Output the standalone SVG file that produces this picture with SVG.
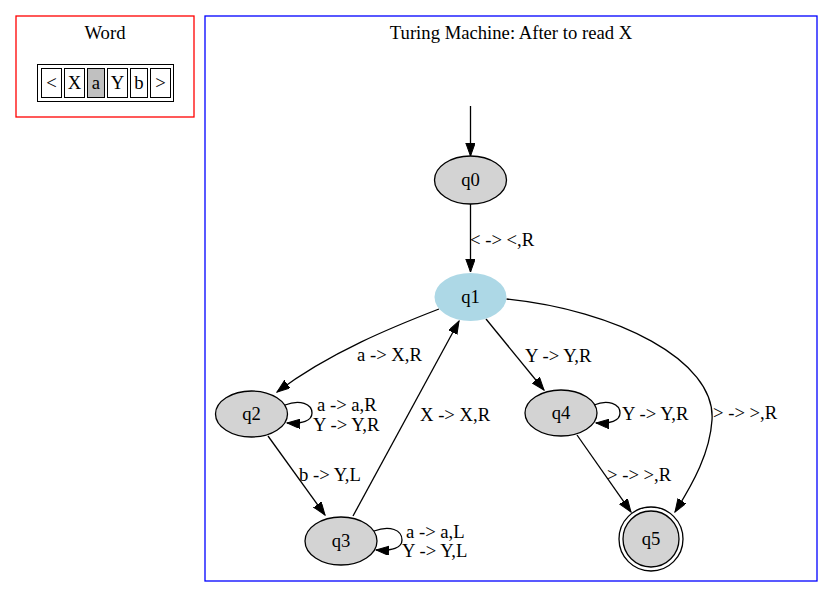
<svg xmlns="http://www.w3.org/2000/svg" width="833" height="598" viewBox="0 0 833 598">
<style>
text{font-family:"Liberation Serif","Times New Roman",serif;font-size:18.67px;fill:#000}
.c{text-anchor:middle}
.n{fill:#d3d3d3;stroke:#000;stroke-width:1.3}
.e{fill:none;stroke:#000;stroke-width:1.3}
.cell{fill:#fff;stroke:#000;stroke-width:1}
</style>
<defs>
<marker id="ah" markerUnits="userSpaceOnUse" markerWidth="14" markerHeight="10" refX="13" refY="4.7" orient="auto">
<path d="M0,0 L13,4.7 L0,9.4 z" fill="#000" stroke="#000" stroke-width="1"/>
</marker>
</defs>
<rect width="833" height="598" fill="#fff"/>
<g id="cluster_word">
<rect x="16" y="16" width="178" height="101" fill="none" stroke="#ff0000" stroke-width="1.3"/>
<text class="c" x="105" y="39">Word</text>
<rect x="37.5" y="64.5" width="136" height="37" fill="none" stroke="#000" stroke-width="1"/>
<rect class="cell" x="41.5" y="68.5" width="20" height="29"/>
<rect class="cell" x="64.5" y="68.5" width="20" height="29"/>
<rect x="87.5" y="68.5" width="17" height="29" fill="#c0c0c0" stroke="#000" stroke-width="1"/>
<rect class="cell" x="107.5" y="68.5" width="20" height="29"/>
<rect class="cell" x="130.5" y="68.5" width="17" height="29"/>
<rect class="cell" x="150.5" y="68.5" width="20" height="29"/>
<text class="c" x="51.5" y="89">&lt;</text>
<text class="c" x="74.5" y="89">X</text>
<text class="c" x="96" y="89">a</text>
<text class="c" x="117.5" y="89">Y</text>
<text class="c" x="139" y="89">b</text>
<text class="c" x="160.5" y="89">&gt;</text>
</g>
<g id="cluster_tm">
<rect x="205" y="16" width="612" height="565" fill="none" stroke="#0000ff" stroke-width="1.3"/>
<text class="c" x="511" y="39">Turing Machine: After to read X</text>
</g>
<g id="edges">
<path class="e" d="M470.5,106 L470.5,156" marker-end="url(#ah)"/>
<path class="e" d="M470.5,204 L470.5,272" marker-end="url(#ah)"/>
<text x="470" y="246">&lt; -&gt; &lt;,R</text>
<path class="e" d="M439,309 C395,326 330,352 277,392" marker-end="url(#ah)"/>
<text x="357" y="361">a -&gt; X,R</text>
<path class="e" d="M486,319 L544,390" marker-end="url(#ah)"/>
<text x="525" y="362">Y -&gt; Y,R</text>
<path class="e" d="M506.5,299 C615,310 716,360 712,420 C710,452 694,482 675,512" marker-end="url(#ah)"/>
<text x="713" y="419">&gt; -&gt; &gt;,R</text>
<path class="e" d="M594,405 C608,399 620,404 620,413 C620,421 610,424 596,423" marker-end="url(#ah)"/>
<text x="622" y="420">Y -&gt; Y,R</text>
<path class="e" d="M577,435 L631,512" marker-end="url(#ah)"/>
<text x="607" y="481">&gt; -&gt; &gt;,R</text>
<path class="e" d="M285,405 C300,399 312,404 312,413 C312,421 302,424 287,423" marker-end="url(#ah)"/>
<text x="317" y="411">a -&gt; a,R</text>
<text x="313" y="431">Y -&gt; Y,R</text>
<path class="e" d="M268,436 L325,515" marker-end="url(#ah)"/>
<text x="299" y="481">b -&gt; Y,L</text>
<path class="e" d="M353,516 L459,321" marker-end="url(#ah)"/>
<text x="420" y="421">X -&gt; X,R</text>
<path class="e" d="M374,531 C390,525 402,530 402,540 C402,548 392,551 376,550" marker-end="url(#ah)"/>
<text x="406" y="538">a -&gt; a,L</text>
<text x="402" y="557">Y -&gt; Y,L</text>
</g>
<g id="q0">
<ellipse class="n" cx="470.5" cy="180" rx="36" ry="24"/>
<text class="c" x="470.5" y="186">q0</text>
</g>
<g id="q1">
<ellipse cx="470.5" cy="297" rx="36" ry="24" fill="#add8e6"/>
<text class="c" x="470.5" y="303">q1</text>
</g>
<g id="q2">
<ellipse class="n" cx="251.5" cy="414" rx="36" ry="23"/>
<text class="c" x="251.5" y="420">q2</text>
</g>
<g id="q3">
<ellipse class="n" cx="341" cy="541" rx="36" ry="24"/>
<text class="c" x="341" y="547">q3</text>
</g>
<g id="q4">
<ellipse class="n" cx="561" cy="413" rx="36" ry="23"/>
<text class="c" x="561" y="419">q4</text>
</g>
<g id="q5">
<circle cx="651" cy="539" r="32" fill="none" stroke="#000" stroke-width="1.3"/>
<circle class="n" cx="651" cy="539" r="28"/>
<text class="c" x="651" y="545">q5</text>
</g>
</svg>
